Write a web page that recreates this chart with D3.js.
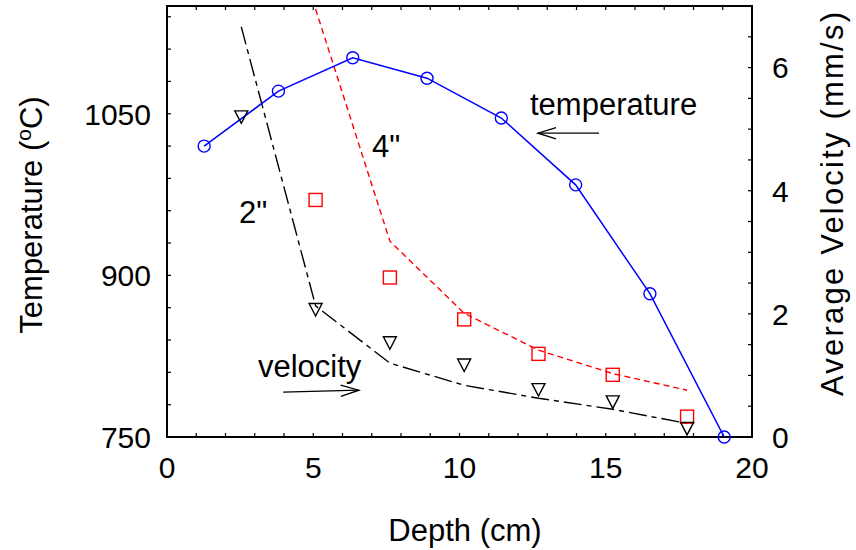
<!DOCTYPE html>
<html>
<head>
<meta charset="utf-8">
<script src="https://cdn.jsdelivr.net/npm/d3@7"></script>
<style>
  body { margin: 0; background: #fff; }
  text { font-family: "Liberation Sans", Arial, Helvetica, sans-serif; fill: #000; }
</style>
</head>
<body>
<svg id="chart" width="856" height="550"></svg>
<script>
// ---- data ----
const depthTemp = [1.27, 3.81, 6.35, 8.89, 11.43, 13.97, 16.51, 19.05];
const temperature = [1020, 1071, 1102, 1083, 1046, 984, 883, 750];

const depth2 = [2.54, 5.08, 7.62, 10.16, 12.7, 15.24, 17.78];
const velocity2 = [5.2, 2.07, 1.53, 1.17, 0.77, 0.57, 0.14];
const model2 = [6.66, 2.13, 1.2, 0.84, 0.63, 0.45, 0.22];

const depth4 = [5.08, 7.62, 10.16, 12.7, 15.24, 17.78];
const velocity4 = [3.85, 2.59, 1.91, 1.35, 1.01, 0.33];
const model4 = [6.95, 3.18, 2.01, 1.41, 1.03, 0.76];

const xTickLabels = [0, 5, 10, 15, 20];
const tTickLabels = [750, 900, 1050];
const vTickLabels = [0, 2, 4, 6];

// ---- layout ----
const L = 167, R = 752, T = 6, B = 437;
const svg = d3.select("#chart");
const x = d3.scaleLinear([0, 20], [L, R]);
const yT = d3.scaleLinear([750, 1150], [B, T]);
const yV = d3.scaleLinear([0, 7], [B, T]);
const FS = 30, FT = 31;

// ticks (inward)
const tickLen = 4;
const axisG = svg.append("g").attr("stroke", "#000").attr("stroke-width", 1.2);
d3.range(1, 20).forEach(v => {
  axisG.append("line").attr("x1", x(v)).attr("x2", x(v)).attr("y1", B).attr("y2", B - tickLen);
  axisG.append("line").attr("x1", x(v)).attr("x2", x(v)).attr("y1", T).attr("y2", T + tickLen);
});
d3.range(780, 1150, 30).forEach(v => {
  axisG.append("line").attr("x1", L).attr("x2", L + tickLen).attr("y1", yT(v)).attr("y2", yT(v));
});
d3.range(0.5, 7, 0.5).forEach(v => {
  axisG.append("line").attr("x1", R).attr("x2", R - tickLen).attr("y1", yV(v)).attr("y2", yV(v));
});

// frame
svg.append("rect").attr("x", L).attr("y", T).attr("width", R - L).attr("height", B - T)
  .attr("fill", "none").attr("stroke", "#000").attr("stroke-width", 2);

// tick labels
svg.append("g").selectAll("text").data(xTickLabels).join("text")
  .attr("x", d => x(d)).attr("y", B + 41).attr("text-anchor", "middle")
  .attr("font-size", FS).text(d => d);
svg.append("g").selectAll("text").data(tTickLabels).join("text")
  .attr("x", L - 16).attr("y", d => yT(d)).attr("dy", "0.36em").attr("text-anchor", "end")
  .attr("font-size", FS).text(d => d);
svg.append("g").selectAll("text").data(vTickLabels).join("text")
  .attr("x", R + 20).attr("y", d => yV(d)).attr("dy", "0.36em").attr("text-anchor", "start")
  .attr("font-size", FS).text(d => d);

// axis titles
svg.append("text").attr("x", 465).attr("y", 541).attr("text-anchor", "middle")
  .attr("font-size", FT).text("Depth (cm)");
const lt = svg.append("text").attr("transform", "translate(42,215) rotate(-90)")
  .attr("text-anchor", "middle").attr("font-size", FT);
lt.append("tspan").text("Temperature (");
lt.append("tspan").attr("font-size", 21).attr("dy", -11).text("o");
lt.append("tspan").attr("dy", 11).text("C)");
svg.append("text").attr("transform", "translate(843,204) rotate(-90)")
  .attr("text-anchor", "middle").attr("font-size", FT)
  .attr("textLength", 384).attr("lengthAdjust", "spacing").text("Average Velocity (mm/s)");

// clip
svg.append("clipPath").attr("id", "clip").append("rect")
  .attr("x", L).attr("y", T).attr("width", R - L).attr("height", B - T);
const plot = svg.append("g").attr("clip-path", "url(#clip)");

const lineT = d3.line().x((d, i) => x(depthTemp[i])).y(d => yT(d));
const line2 = d3.line().x((d, i) => x(depth2[i])).y(d => yV(d));
const line4 = d3.line().x((d, i) => x(depth4[i])).y(d => yV(d));

plot.append("path").attr("d", line2(model2)).attr("fill", "none")
  .attr("stroke", "#000").attr("stroke-width", 1.4).attr("stroke-dasharray", "18,5,5,5");
plot.append("path").attr("d", line4(model4)).attr("fill", "none")
  .attr("stroke", "#ff0000").attr("stroke-width", 1.4).attr("stroke-dasharray", "6,4");
plot.append("path").attr("d", lineT(temperature)).attr("fill", "none")
  .attr("stroke", "#0000ff").attr("stroke-width", 1.5);

// markers
svg.append("g").selectAll("circle").data(temperature).join("circle")
  .attr("cx", (d, i) => x(depthTemp[i])).attr("cy", d => yT(d)).attr("r", 6)
  .attr("fill", "none").attr("stroke", "#0000ff").attr("stroke-width", 1.4);
svg.append("g").selectAll("rect").data(velocity4).join("rect")
  .attr("x", (d, i) => x(depth4[i]) - 6.5).attr("y", d => yV(d) - 6.5)
  .attr("width", 13).attr("height", 13)
  .attr("fill", "none").attr("stroke", "#ff0000").attr("stroke-width", 1.4);
svg.append("g").selectAll("path").data(velocity2).join("path")
  .attr("transform", (d, i) => `translate(${x(depth2[i])},${yV(d)})`)
  .attr("d", "M-6.5,-6L6.5,-6L0,6.5Z")
  .attr("fill", "none").attr("stroke", "#000").attr("stroke-width", 1.4);

// annotations
function arrow(x1, y1, x2, y2) {
  const g = svg.append("g").attr("stroke", "#000").attr("stroke-width", 1.3).attr("fill", "none");
  g.append("line").attr("x1", x1).attr("y1", y1).attr("x2", x2).attr("y2", y2);
  const a = Math.atan2(y2 - y1, x2 - x1), len = 19, w = 0.3;
  g.append("path").attr("d",
    `M${x2 - len * Math.cos(a - w)},${y2 - len * Math.sin(a - w)}L${x2},${y2}L${x2 - len * Math.cos(a + w)},${y2 - len * Math.sin(a + w)}`);
}
svg.append("text").attr("x", x(12.41)).attr("y", yT(1049)).attr("font-size", FT).text("temperature");
arrow(x(14.77), yT(1032), x(12.68), yT(1032));
svg.append("text").attr("x", x(3.11)).attr("y", yV(0.975)).attr("font-size", FT).text("velocity");
arrow(x(3.97), yV(0.73), x(6.56), yV(0.76));
svg.append("text").attr("x", x(7.01)).attr("y", yV(4.55)).attr("font-size", FT).text("4\"");
svg.append("text").attr("x", x(2.46)).attr("y", yV(3.48)).attr("font-size", FT).text("2\"");
</script>
</body>
</html>
